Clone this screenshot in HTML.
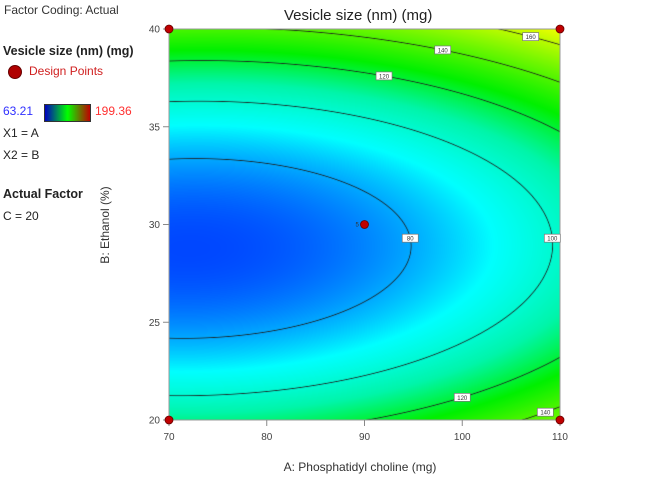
<!DOCTYPE html>
<html><head><meta charset="utf-8">
<style>
body{margin:0;background:#fff;width:648px;height:486px;overflow:hidden;position:relative;font-family:"Liberation Sans",sans-serif;}
.t{position:absolute;white-space:nowrap;color:#222;}
</style></head><body>
<div class="t" style="left:4px;top:3px;font-size:12px;color:#333">Factor Coding: Actual</div>
<div class="t" style="left:3px;top:44px;font-size:12.5px;font-weight:bold">Vesicle size (nm) (mg)</div>
<div style="position:absolute;left:8px;top:65px;width:12px;height:12px;border-radius:50%;background:#b00000;border:1px solid #600"></div>
<div class="t" style="left:29px;top:64px;font-size:12px;color:#d02020">Design Points</div>
<div class="t" style="left:3px;top:104px;font-size:12px;color:#3030ff">63.21</div>
<div style="position:absolute;left:44px;top:104px;width:45px;height:16px;border:1px solid #333;background:linear-gradient(to right,#0000c0,#00ff00 50%,#c00000)"></div>
<div class="t" style="left:95px;top:104px;font-size:12px;color:#ff3030">199.36</div>
<div class="t" style="left:3px;top:126px;font-size:12px">X1 = A</div>
<div class="t" style="left:3px;top:148px;font-size:12px">X2 = B</div>
<div class="t" style="left:3px;top:187px;font-size:12.5px;font-weight:bold">Actual Factor</div>
<div class="t" style="left:3px;top:209px;font-size:12px">C = 20</div>
<div class="t" style="left:284px;top:7px;font-size:15px;color:#222">Vesicle size (nm) (mg)</div>
<canvas id="cv" width="391" height="391" style="position:absolute;left:169px;top:29px"></canvas>
<svg id="sv" width="648" height="486" style="position:absolute;left:0;top:0"></svg>
<script>
const coef = [76.25, 16.4, 12.7, -1.2, 9.24, 56.2]; // b0, A, B, AB, A2, B2 (coded)
const levels = [80, 100, 120, 140, 160];
const xTicks = [70, 80, 90, 100, 110];
const yTicks = [20, 25, 30, 35, 40];
const designA = [70, 70, 110, 110, 90];
const designB = [20, 40, 20, 40, 30];
const labelLevels = [80, 100, 120, 140, 160, 120, 140];
const labelA = [null, null, 92, 98, 107, 100, 108.5];
const labelBranch = [0, 0, 1, 1, 1, -1, -1];
const vmin = 63.21, vmax = 199.36;
const L=169,T=29,W=391,H=391;
const sx=a=>L+(a-70)/40*W, sy=b=>T+H-(b-20)/20*H;
function f(A,B){const a=(A-90)/20,b=(B-30)/10;return coef[0]+coef[1]*a+coef[2]*b+coef[3]*a*b+coef[4]*a*a+coef[5]*b*b;}
function col(v){let t=Math.max(0,Math.min(1,(v-vmin)/(vmax-vmin)));
 const st=[[0,0,30,255],[0.2,0,255,255],[0.33,0,245,170],[0.46,0,240,0],[0.8,255,255,0],[1,255,0,0]];
 for(let i=0;i<st.length-1;i++){if(t<=st[i+1][0]){const u=(t-st[i][0])/(st[i+1][0]-st[i][0]);return [0,1,2].map(k=>st[i][k+1]+(st[i+1][k+1]-st[i][k+1])*u);}}return [255,0,0];}
const cv=document.getElementById('cv'),ctx=cv.getContext('2d'),img=ctx.createImageData(W,H);
for(let py=0;py<H;py++)for(let px=0;px<W;px++){
 const A=70+(px+0.5)/W*40,B=40-(py+0.5)/H*20,v=f(A,B);
 const gA=(f(A+0.05,B)-f(A-0.05,B))/0.1*40/W, gB=(f(A,B+0.05)-f(A,B-0.05))/0.1*20/H;
 const g=Math.hypot(gA,gB)||1e-6;let al=0;
 for(const lv of levels){const d=Math.abs(v-lv)/g;al=Math.max(al,Math.max(0,Math.min(1,1-d/0.8)));}
 let c=col(v);c=c.map(x=>x*(1-al)+30*al);
 const i=(py*W+px)*4;img.data[i]=c[0];img.data[i+1]=c[1];img.data[i+2]=c[2];img.data[i+3]=255;}
ctx.putImageData(img,0,0);
const sv=document.getElementById('sv'),NS='http://www.w3.org/2000/svg';
function mk(tag,at,txt){const e=document.createElementNS(NS,tag);for(const k in at)e.setAttribute(k,at[k]);if(txt!==undefined)e.textContent=txt;sv.appendChild(e);return e;}
let e=mk('rect',{x:L,y:T,width:W,height:H,fill:'none',stroke:'#999','stroke-width':1});


xTicks.forEach(v=>{let l=mk('line',{x1:sx(v),x2:sx(v),y1:T+H,y2:T+H+6,stroke:'#888'});
 
 
 let t=mk('text',{x:sx(v),y:T+H+20,'font-size':10,'text-anchor':'middle',fill:'#444','font-family':'Liberation Sans'},v);
 
 });
yTicks.forEach(v=>{let l=mk('line',{x1:L-6,x2:L,y1:sy(v),y2:sy(v),stroke:'#888'});
 
 
 let t=mk('text',{x:L-9,y:sy(v)+3.5,'font-size':10,'text-anchor':'end',fill:'#444','font-family':'Liberation Sans'},v);
 
 });
e=mk('text',{x:360,y:471,'font-size':12,'text-anchor':'middle',fill:'#333','font-family':'Liberation Sans'},'A: Phosphatidyl choline (mg)');


e=mk('text',{x:109,y:225,'font-size':12,'text-anchor':'middle',fill:'#333','font-family':'Liberation Sans',transform:'rotate(-90 109 225)'},'B: Ethanol (%)');


function solveA(lv,B){let lo=75,hi=115;for(let i=0;i<60;i++){const m=(lo+hi)/2;if(f(m,B)<lv)lo=m;else hi=m;}return lo;}
function solveB(lv,A,br){let lo=29,hi=br>0?45:15;for(let i=0;i<60;i++){const m=(lo+hi)/2;if(f(A,m)<lv)lo=m;else hi=m;}return lo;}
labelLevels.forEach((lv,i)=>{let A,B;if(labelA[i]===null){B=29.3;A=solveA(lv,B);}else{A=labelA[i];B=solveB(lv,A,labelBranch[i]);}
 const x=sx(A),y=sy(B);
 let r=mk('rect',{x:x-8,y:y-4,width:16,height:8,fill:'#fff',stroke:'#777','stroke-width':0.7});
 
 
 let t=mk('text',{x:x,y:y+2.5,'font-size':6,'text-anchor':'middle',fill:'#333','font-family':'Liberation Sans'},lv);
 
 });
designA.forEach((a,i)=>{let c=mk('circle',{cx:sx(a),cy:sy(designB[i]),r:4,fill:'#c00000',stroke:'#600','stroke-width':0.8});
 
 });
e=mk('text',{x:sx(90)-9,y:sy(30)+2,'font-size':6,fill:'#333','font-family':'Liberation Sans'},'5');


</script>
</body></html>
